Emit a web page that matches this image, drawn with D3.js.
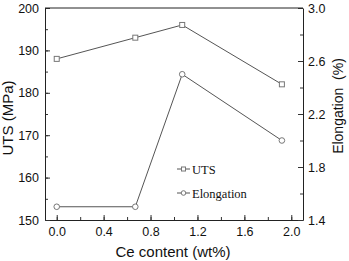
<!DOCTYPE html>
<html>
<head>
<meta charset="utf-8">
<script src="https://cdn.jsdelivr.net/npm/d3@7"></script>
<style>
  body { margin: 0; background: #fff; }
</style>
</head>
<body>
<script>
// chart values
var ceContent = [0.0, 0.67, 1.07, 1.92];
var utsValues = [188, 193, 196, 182];
var elongValues = [1.5, 1.5, 2.5, 2.0];
var xTicks = [0.0, 0.4, 0.8, 1.2, 1.6, 2.0];
var utsTicks = [150, 160, 170, 180, 190, 200];
var elongTicks = [1.4, 1.8, 2.2, 2.6, 3.0];
var seriesNames = ["UTS", "Elongation"];

var W = 349, H = 261;
var margin = { top: 8, right: 46, bottom: 41, left: 45 };
var width = W - margin.left - margin.right;
var height = H - margin.top - margin.bottom;
var lineCol = "#555", markCol = "#777";
var sans = "Liberation Sans, Arial, sans-serif";
var serif = "Liberation Serif, Times New Roman, serif";

var svg = d3.select("body").append("svg")
    .attr("width", W)
    .attr("height", H);

var g = svg.append("g")
    .attr("transform", "translate(" + margin.left + "," + margin.top + ")");

var x = d3.scaleLinear().domain([-0.1, 2.1]).range([0, width]);
var yL = d3.scaleLinear().domain([150, 200]).range([height, 0]);
var yR = d3.scaleLinear().domain([1.4, 3.0]).range([height, 0]);

// minor ticks first, then major ticks with labels
function minor(axis) {
    return function (sel) {
        sel.call(axis);
        sel.selectAll("text").remove();
        sel.select(".domain").remove();
    };
}

g.append("g").attr("transform", "translate(0," + height + ")")
    .call(minor(d3.axisBottom(x).tickValues(d3.range(0, 2.01, 0.2)).tickSizeInner(-3).tickSizeOuter(0)));
g.append("g")
    .call(minor(d3.axisLeft(yL).tickValues(d3.range(150, 201, 5)).tickSizeInner(-3).tickSizeOuter(0)));
g.append("g").attr("transform", "translate(" + width + ",0)")
    .call(minor(d3.axisRight(yR).tickValues(d3.range(1.4, 3.01, 0.2)).tickSizeInner(-3).tickSizeOuter(0)));

g.append("g").attr("transform", "translate(0," + height + ")")
    .call(d3.axisBottom(x).tickValues(xTicks).tickFormat(d3.format(".1f")).tickSizeInner(-5).tickSizeOuter(0).tickPadding(7));
g.append("g")
    .call(d3.axisLeft(yL).tickValues(utsTicks).tickSizeInner(-5).tickSizeOuter(0).tickPadding(6));
g.append("g").attr("transform", "translate(" + width + ",0)")
    .call(d3.axisRight(yR).tickValues(elongTicks).tickFormat(d3.format(".1f")).tickSizeInner(-5).tickSizeOuter(0).tickPadding(5));

g.selectAll(".domain").attr("stroke", "#222");
g.selectAll(".tick line").attr("stroke", "#333");
g.selectAll(".tick text").attr("font-size", 12.5).attr("fill", "#111")
    .attr("font-family", sans);

// top frame line
g.append("line").attr("x1", 0).attr("x2", width).attr("y1", 0).attr("y2", 0)
    .attr("stroke", "#222");

// series
var utsLine = d3.line().x(function (d, i) { return x(ceContent[i]); }).y(function (d) { return yL(d); });
var elLine = d3.line().x(function (d, i) { return x(ceContent[i]); }).y(function (d) { return yR(d); });

g.append("path").datum(utsValues).attr("d", utsLine)
    .attr("fill", "none").attr("stroke", lineCol).attr("stroke-width", 1);
g.append("path").datum(elongValues).attr("d", elLine)
    .attr("fill", "none").attr("stroke", lineCol).attr("stroke-width", 1);

g.selectAll(".sq").data(utsValues).enter().append("rect")
    .attr("x", function (d, i) { return x(ceContent[i]) - 2.5; })
    .attr("y", function (d) { return yL(d) - 2.5; })
    .attr("width", 5).attr("height", 5)
    .attr("fill", "#fff").attr("stroke", markCol);

g.selectAll(".ci").data(elongValues).enter().append("circle")
    .attr("cx", function (d, i) { return x(ceContent[i]); })
    .attr("cy", function (d) { return yR(d); })
    .attr("r", 2.8)
    .attr("fill", "#fff").attr("stroke", markCol);

// legend
var leg = svg.append("g").attr("transform", "translate(177,169)");
seriesNames.forEach(function (name, i) {
    var row = leg.append("g").attr("transform", "translate(0," + (i * 24) + ")");
    row.append("line").attr("x1", 0).attr("x2", 13).attr("y1", 0).attr("y2", 0)
        .attr("stroke", lineCol);
    if (i === 0) {
        row.append("rect").attr("x", 4.5).attr("y", -2).attr("width", 4).attr("height", 4)
            .attr("fill", "#fff").attr("stroke", markCol);
    } else {
        row.append("circle").attr("cx", 6.5).attr("cy", 0).attr("r", 2.3)
            .attr("fill", "#fff").attr("stroke", markCol);
    }
    row.append("text").attr("x", 15).attr("y", 4.5)
        .attr("font-family", serif)
        .attr("font-size", 12.5).attr("fill", "#111")
        .text(name);
});

// axis titles
svg.append("text")
    .attr("transform", "translate(13," + (margin.top + height / 2 + 4) + ") rotate(-90)")
    .attr("text-anchor", "middle")
    .attr("font-family", sans)
    .attr("font-size", 15).attr("fill", "#111")
    .text("UTS (MPa)");

svg.append("text")
    .attr("transform", "translate(343," + (margin.top + height / 2 - 8) + ") rotate(-90)")
    .attr("text-anchor", "middle")
    .attr("font-family", sans)
    .attr("font-size", 14).attr("fill", "#111")
    .style("white-space", "pre")
    .text("Elongation  (%)");

svg.append("text")
    .attr("x", 173).attr("y", 257)
    .attr("text-anchor", "middle")
    .attr("font-family", sans)
    .attr("font-size", 15).attr("fill", "#111")
    .text("Ce content (wt%)");
</script>
</body>
</html>
